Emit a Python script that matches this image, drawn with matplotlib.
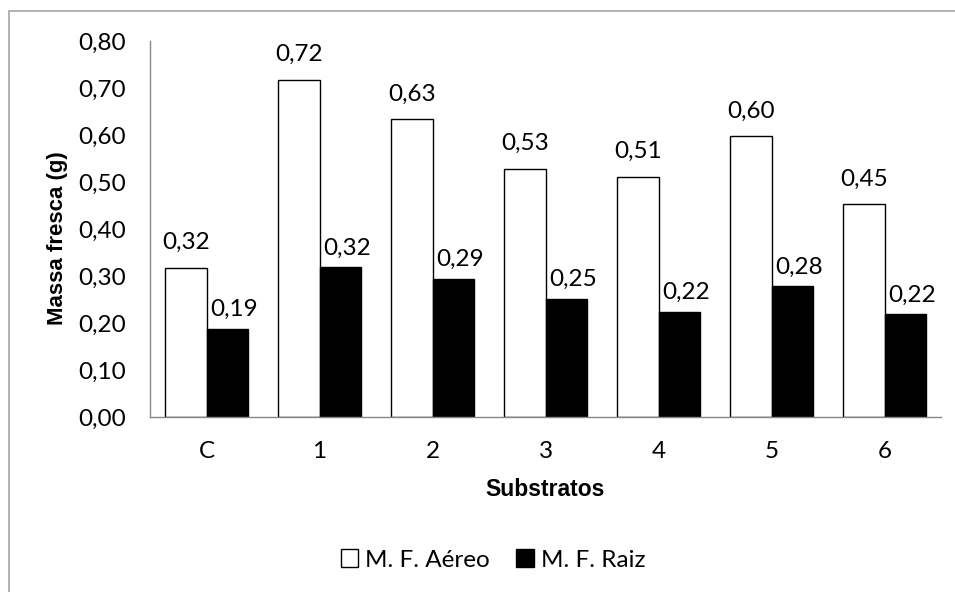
import matplotlib
matplotlib.use('Agg')
import matplotlib.pyplot as plt
from matplotlib.patches import Rectangle
import numpy as np

categorias = ['C', '1', '2', '3', '4', '5', '6']
aereo = [0.318, 0.718, 0.633, 0.528, 0.511, 0.597, 0.453]
raiz = [0.188, 0.319, 0.294, 0.252, 0.224, 0.279, 0.219]
yticks = [0.0, 0.1, 0.2, 0.3, 0.4, 0.5, 0.6, 0.7, 0.8]

W, H = 955, 592
fig = plt.figure(figsize=(W / 100, H / 100), dpi=100)
fig.patch.set_facecolor('white')

# borda da area do grafico (estilo Excel)
fig.patches.append(Rectangle((9 / W, -0.1), 1.2, 1 - 11 / H + 0.1, transform=fig.transFigure,
                             fill=False, edgecolor='#a6a6a6', linewidth=1.2))

ax = fig.add_axes([150 / W, 1 - 417 / H, (941 - 150) / W, (417 - 41) / H])

x = np.arange(len(categorias))
larg = 0.365
b1 = ax.bar(x - larg / 2, aereo, larg, color='white', edgecolor='black', linewidth=1.0, label='M. F. Aéreo')
b2 = ax.bar(x + larg / 2, raiz, larg, color='black', edgecolor='black', linewidth=1.0, label='M. F. Raiz')

fonte = 'Lato'
tam = 17.5

def rotulo(v):
    return ('%.2f' % v).replace('.', ',')

for xi, v in zip(x, aereo):
    ax.annotate(rotulo(v), (xi - larg / 2, v), xytext=(0, 25 * 0.72), textcoords='offset points',
                ha='center', va='center', fontsize=tam, family=fonte)
for xi, v in zip(x, raiz):
    ax.annotate(rotulo(v), (xi + larg / 2, v), xytext=(7 * 0.72, 19 * 0.72), textcoords='offset points',
                ha='center', va='center', fontsize=tam, family=fonte)

ax.set_xlim(-0.5, len(categorias) - 0.5)
ax.set_ylim(0, 0.8)
ax.set_yticks(yticks)
ax.set_yticklabels([rotulo(t) for t in yticks], fontsize=tam, family=fonte)
ax.set_xticks(x)
ax.set_xticklabels(categorias, fontsize=tam, family=fonte)
ax.tick_params(axis='both', length=0)
ax.tick_params(axis='y', pad=24 * 0.72)
ax.tick_params(axis='x', pad=24 * 0.72)

for s in ['top', 'right']:
    ax.spines[s].set_visible(False)
for s in ['left', 'bottom']:
    ax.spines[s].set_color('#868686')
    ax.spines[s].set_linewidth(1.0)

fig.text(545 / W, 1 - 490 / H, 'Substratos', ha='center', va='center',
         fontsize=16.5, fontweight='bold', family='Liberation Sans')
fig.text(57 / W, 1 - 238 / H, 'Massa fresca (g)', ha='center', va='center', rotation=90,
         fontsize=16, fontweight='bold', family='Liberation Sans')

leg = fig.legend(handles=[b1, b2], loc='center', bbox_to_anchor=(493 / W, 1 - 560 / H), ncol=2,
                 frameon=False, prop={'family': fonte, 'size': tam},
                 handlelength=0.7, handleheight=0.7, handletextpad=0.3, columnspacing=1.1)

plt.savefig('out.png', dpi=100)
